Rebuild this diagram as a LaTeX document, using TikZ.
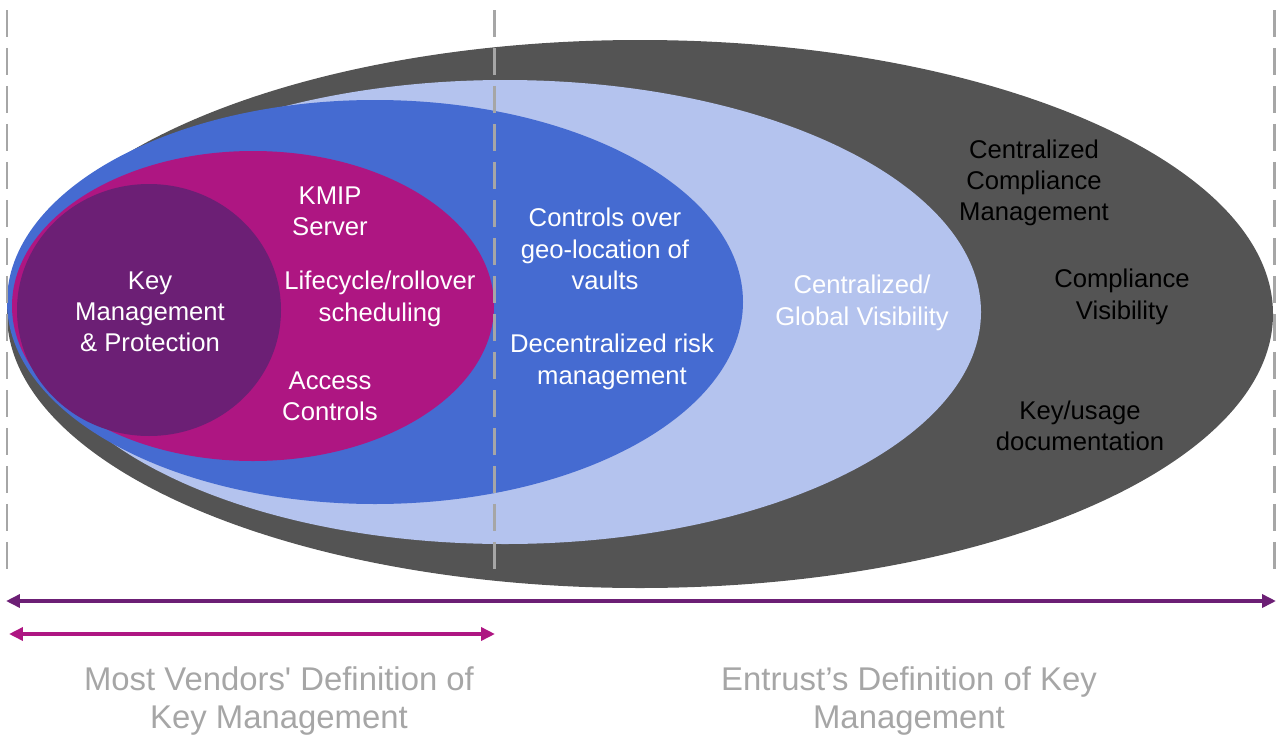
\documentclass[tikz,border=0pt]{standalone}
\usepackage{fontspec}
\setmainfont{Liberation Sans}[Ligatures=TeXOff]
\usetikzlibrary{arrows.meta}
\definecolor{outergrey}{HTML}{545454}
\definecolor{paleblue}{HTML}{B4C3EE}
\definecolor{midblue}{HTML}{456BD1}
\definecolor{kmmagenta}{HTML}{AE1682}
\definecolor{deeppurple}{HTML}{6C1F75}
\definecolor{guidegrey}{HTML}{A6A6A6}

\begin{document}
\begin{tikzpicture}[
            x=0.02cm, y=-0.02cm,
            txt/.style={align=center, text=white, font=\fontsize{14.6}{17.8}\selectfont},
            darktxt/.style={txt, text=black},
            foot/.style={align=center, text=guidegrey, font=\fontsize{18.7}{21.8}\selectfont},
            guide/.style={draw=guidegrey, line width=0.06cm, dash pattern=on 0.54cm off 0.22cm},
            span/.style={line width=0.08cm, {Triangle[length=0.28cm,width=0.26cm]}-{Triangle[length=0.28cm,width=0.26cm]}}
            ]
            \useasboundingbox (0,0) rectangle (1281,747);
            % nested scopes, outermost first
            \fill[outergrey] (640,314) ellipse [x radius=633, y radius=274];
            \fill[paleblue] (505,312) ellipse [x radius=476, y radius=232];
            \fill[midblue] (375,302) ellipse [x radius=368, y radius=202];
            \fill[kmmagenta] (253,306) ellipse [x radius=241, y radius=155];
            \fill[deeppurple] (149,310) ellipse [x radius=132, y radius=126];
            % dashed guides
            \coordinate (leftTop) at (7,10);
            \coordinate (leftBot) at (7,575);
            \coordinate (midTop) at (494,10);
            \coordinate (midBot) at (494,575);
            \coordinate (rightTop) at (1274,10);
            \coordinate (rightBot) at (1274,575);
            \draw[guide] (leftTop) -- (leftBot);
            \draw[guide] (midTop) -- (midBot);
            \draw[guide] (rightTop) -- (rightBot);
            % labels
            \node[txt] (keymgmt) at (150,312) {Key\\Management\\\& Protection};
            \node[txt] (kmip) at (330,211) {KMIP\\Server};
            \node[txt] (lifecycle) at (380,299) {Lifecycle/rollover\\scheduling};
            \node[txt] (access) at (330,396) {Access\\Controls};
            \node[txt] (geo) at (605,249) {Controls over\\geo-location of\\vaults};
            \node[txt] (risk) at (612,362) {Decentralized risk\\management};
            \node[txt] (global) at (862,303) {Centralized/\\Global Visibility};
            \node[darktxt] (central) at (1034,183) {Centralized\\Compliance\\Management};
            \node[darktxt] (visib) at (1122,297) {Compliance\\Visibility};
            \node[darktxt] (usage) at (1080,426) {Key/usage\\documentation};
            % spans
            \coordinate (wideL) at (6,601);
            \coordinate (wideR) at (1276,601);
            \coordinate (narrowL) at (9,634);
            \coordinate (narrowR) at (495,634);
            \draw[span, deeppurple] (wideL) -- (wideR);
            \draw[span, kmmagenta] (narrowL) -- (narrowR);
            \node[foot] (vendors) at (279,701) {Most Vendors' Definition of\\Key Management};
            \node[foot] (entrust) at (909,701) {Entrust’s Definition of Key\\Management};
        \end{tikzpicture}
\end{document}
